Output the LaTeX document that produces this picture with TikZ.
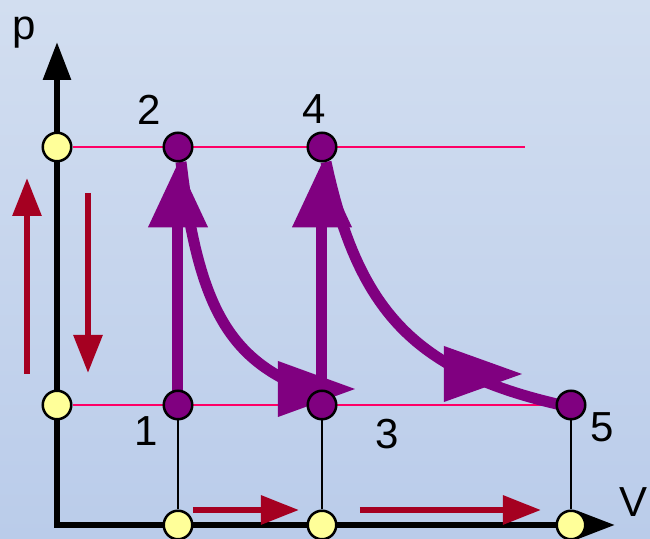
\documentclass[tikz,border=0pt]{standalone}
\usepackage{fontspec}
\setmainfont{Liberation Sans}
\usetikzlibrary{arrows.meta}
\definecolor{bgtop}{HTML}{D2DEF0}
\definecolor{bgbot}{HTML}{BACCEA}
\definecolor{pur}{HTML}{800080}
\definecolor{yel}{HTML}{FFFF99}
\definecolor{darkred}{HTML}{A50021}
\definecolor{pinkl}{HTML}{FF0066}
\pgfdeclarelayer{back}
\pgfdeclarelayer{mid}
\pgfsetlayers{back,mid,main}
\begin{document}
\begin{tikzpicture}[x=0.5pt,y=-0.5pt,
  pt/.style={circle,draw=black,line width=1.25pt,minimum size=14.25pt,inner sep=0pt,fill=pur},
  ypt/.style={pt,fill=yel},
  lbl/.style={inner sep=0pt,font=\fontsize{21pt}{25pt}\selectfont},
  redarrow/.style={draw=darkred,line width=3pt,-{Triangle[length=19pt,width=14pt]}},
  axis/.style={draw=black,line width=3pt,{Triangle[length=19pt,width=13.5pt]}-{Triangle[length=19pt,width=13.5pt]}},
  pinkline/.style={draw=pinkl,line width=1pt},
  thinline/.style={draw=black,line width=0.75pt},
  purarrow/.style={draw=pur,line width=5.5pt,-{Triangle[length=32.5pt,width=28.5pt]}},
  purcurve/.style={draw=pur,line width=5.5pt}]
\begin{pgfonlayer}{back}
  \shade[top color=bgtop,bottom color=bgbot] (0,0) rectangle (650,539);
\end{pgfonlayer}
\useasboundingbox (0,0) rectangle (650,539);

% points
\node[ypt] (ya) at (57,147) {};
\node[ypt] (yb) at (57,405) {};
\node[pt] (p2) at (178,147) {};
\node[pt] (p4) at (322,147) {};
\node[pt] (p1) at (178,405) {};
\node[pt] (p3) at (322,405) {};
\node[pt] (p5) at (571,405) {};
\node[ypt] (x1) at (178,525) {};
\node[ypt] (x3) at (322,525) {};
\node[ypt] (x5) at (571,525) {};

\coordinate (ytip) at (57,42);
\coordinate (corner) at (57,525);
\coordinate (xtip) at (615,525);
\coordinate (pinkend) at (525,147);
\coordinate (ru1) at (27,374);
\coordinate (ru2) at (27,178);
\coordinate (rd1) at (88,193);
\coordinate (rd2) at (88,373);
\coordinate (rb1) at (193,510);
\coordinate (rb2) at (299,510);
\coordinate (rb3) at (360,510);
\coordinate (rb4) at (541,510);

% labels
\node[lbl] (lp) at (24,32.5) {p};
\node[lbl] (lV) at (634,502) {V};
\node[lbl] (l2) at (149.5,110) {2};
\node[lbl] (l4) at (314,109) {4};
\node[lbl] (l1) at (146,431) {1};
\node[lbl] (l3) at (387,434) {3};
\node[lbl] (l5) at (602,427) {5};

\begin{pgfonlayer}{mid}
  \draw[axis] (ytip) -- (corner) -- (xtip);
  \draw[pinkline] (ya) -- (pinkend);
  \draw[pinkline] (yb) -- (p5);
  \draw[thinline] (p1) -- (x1);
  \draw[thinline] (p3) -- (x3);
  \draw[thinline] (p5) -- (x5);
  % curves
  \draw[purcurve] plot[domain=181:300,samples=60] (\x,{450.2-9741/(\x-147.2)});
  \fill[pur] (278,361) -- (355,389) -- (278,417) -- cycle;
  \draw[purcurve] plot[domain=326:558,samples=80] (\x,{473.6-2069/((\x-259.6)/10)});
  \fill[pur] (444,346) -- (522,374) -- (444,402) -- cycle;
  % vertical arrows
  \draw[purarrow] (p1.center) -- (p2.south);
  \draw[purarrow] (p3.center) -- (p4.south);
  % red arrows
  \draw[redarrow] (ru1) -- (ru2);
  \draw[redarrow] (rd1) -- (rd2);
  \draw[redarrow] (rb1) -- (rb2);
  \draw[redarrow] (rb3) -- (rb4);
\end{pgfonlayer}
\end{tikzpicture}
\end{document}
